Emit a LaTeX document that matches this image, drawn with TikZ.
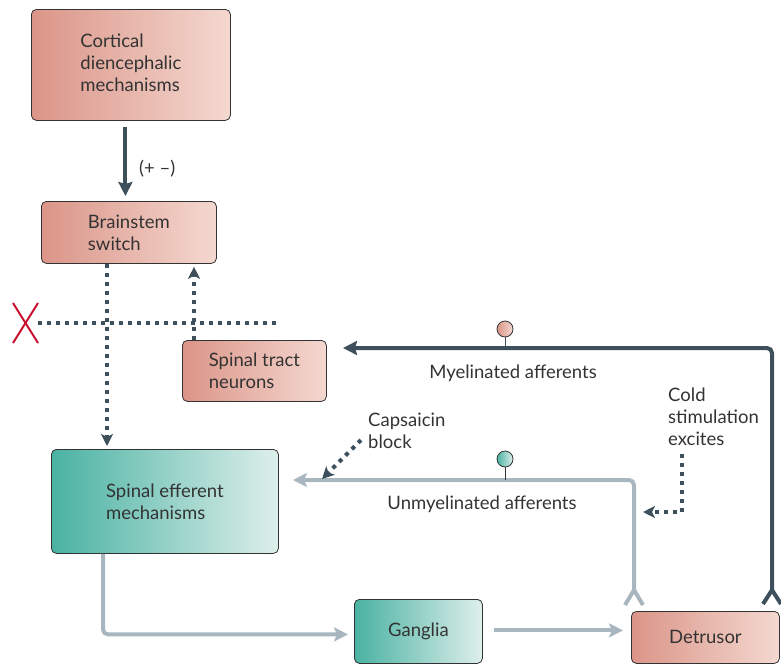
\documentclass[tikz,border=0pt]{standalone}
\usepackage{fontspec}
\setmainfont{Lato}
\usetikzlibrary{arrows.meta,calc}
\definecolor{salL}{HTML}{DB9588}
\definecolor{salR}{HTML}{F4D8D0}
\definecolor{teaL}{HTML}{4AB2A2}
\definecolor{teaR}{HTML}{DDEFEB}
\definecolor{darkln}{HTML}{3E505C}
\definecolor{lightln}{HTML}{A8B6BF}
\definecolor{txt}{HTML}{333333}
\definecolor{redx}{HTML}{C8102E}
\tikzset{
  box/.style={draw=txt, line width=0.8pt, rounded corners=5pt, anchor=north west,
    inner sep=0pt, align=left, text=txt, font=\fontsize{18.5}{22}\selectfont},
  salbox/.style={box, left color=salL, right color=salR},
  teabox/.style={box, left color=teaL, right color=teaR},
  lbl/.style={text=txt, font=\fontsize{18.5}{22}\selectfont, align=left, inner sep=0pt},
  darkarrow/.style={draw=darkln, line width=4pt, -{Stealth[length=14pt,width=14pt,inset=2pt]}},
  dotarrow/.style={draw=darkln, line width=4pt, dash pattern=on 4pt off 5pt,
    -{Stealth[length=12pt,width=12pt,inset=3pt]}},
  dotline/.style={draw=darkln, line width=4pt, dash pattern=on 4pt off 5pt},
  lightarrow/.style={draw=lightln, line width=4pt, -{Stealth[length=14pt,width=14pt,inset=3pt]}},
  forkline/.style={line width=4pt, line cap=butt},
}
\begin{document}
\begin{tikzpicture}[x=1pt,y=-1pt]
\useasboundingbox (0,0) rectangle (781,664);
% boxes
\node[salbox, minimum width=199pt, minimum height=111pt, text depth=4pt] (cort) at (31,9)
  {Cortical\\diencephalic\\mechanisms};
\node[salbox, minimum width=175pt, minimum height=62pt] (brain) at (41,201)
  {Brainstem\\switch};
\node[salbox, minimum width=144pt, minimum height=61pt] (spt) at (182,340)
  {Spinal tract\\neurons};
\node[teabox, minimum width=227pt, minimum height=104pt] (eff) at (51,449)
  {Spinal efferent\\mechanisms};
\node[teabox, minimum width=128pt, minimum height=64pt, align=center] (gang) at (354,599)
  {Ganglia};
\node[salbox, minimum width=148pt, minimum height=52pt, align=center] (det) at (631,611)
  {Detrusor};
% cortical -> brainstem
\coordinate (c1) at ($(cort.south)+(-5.5,6)$);
\coordinate (c2) at ($(c1 |- brain.north)+(0,-5)$);
\draw[darkarrow] (c1) -- (c2);
\node[lbl, anchor=west] (pm) at (139,169) {(+ –)};
% dotted brainstem -> efferent
\coordinate (b1) at ($(brain.south west)+(66,0)$);
\draw[dotarrow] (b1) -- ($(b1 |- eff.north)+(0,-3)$);
% dotted spinal tract -> brainstem
\coordinate (s1) at ($(spt.north west)+(12,0)$);
\draw[dotarrow] (s1) -- ($(s1 |- brain.south)+(0,3)$);
% horizontal dotted cut line
\coordinate (h1) at (38,323);
\coordinate (h2) at (278,323);
\draw[dotline] (h1) -- (h2);
\draw[redx, line width=2pt] (13,303) coordinate (x1) -- (38,343) coordinate (x2);
\draw[redx, line width=2pt] (38,303) coordinate (x3) -- (13,343) coordinate (x4);
% myelinated afferents
\coordinate (mf) at (772,590);
\coordinate (mt) at (343,348);
\draw[darkln, line width=4pt, rounded corners=5pt, -{Stealth[length=14pt,width=14pt,inset=2pt]}]
  (mf) |- (mt);
\draw[darkln, forkline] (763,604) -- (mf) -- (781,604);
\coordinate (mc) at (505,329);
\draw[darkln, line width=1pt] ($(mc)+(0,8)$) -- (505,348);
\shade[left color=salL, right color=salR, draw=txt, line width=0.8pt] (mc) circle (8);
\node[lbl, anchor=base] (myl) at (513,378) {Myelinated afferents};
% unmyelinated afferents
\coordinate (uf) at (634,590);
\coordinate (ut) at (293,480);
\draw[lightln, line width=4pt, rounded corners=5pt, -{Stealth[length=14pt,width=14pt,inset=3pt]}]
  (uf) |- (ut);
\draw[lightln, forkline] (625,605) -- (uf) -- (643,605);
\coordinate (uc) at (505,459);
\draw[txt, line width=1pt] ($(uc)+(0,8)$) -- (505,480);
\shade[left color=teaL, right color=teaR, draw=txt, line width=0.8pt] (uc) circle (8);
\node[lbl, anchor=base] (uml) at (482,509) {Unmyelinated afferents};
% cold stimulation
\node[lbl, anchor=north west] (cold) at (668,388) {Cold\\stimulation\\excites};
\coordinate (cs) at (682,454);
\coordinate (ce) at (643,512);
\draw[dotarrow] (cs) |- (ce);
% capsaicin
\node[lbl, anchor=north west] (caps) at (368,413) {Capsaicin\\block};
\coordinate (ks) at (361,440);
\coordinate (ke) at (322,479);
\draw[dotarrow] (ks) -- (ke);
% efferent -> ganglia -> detrusor
\coordinate (e1) at ($(eff.south west)+(52,0)$);
\draw[lightln, line width=4pt, rounded corners=5pt, -{Stealth[length=14pt,width=14pt,inset=3pt]}]
  (e1) |- ($(gang.west)+(-6,3)$);
\draw[lightarrow] ($(gang.east)+(11,-1)$) -- ($(det.west)+(-8,-7)$);
\end{tikzpicture}
\end{document}
